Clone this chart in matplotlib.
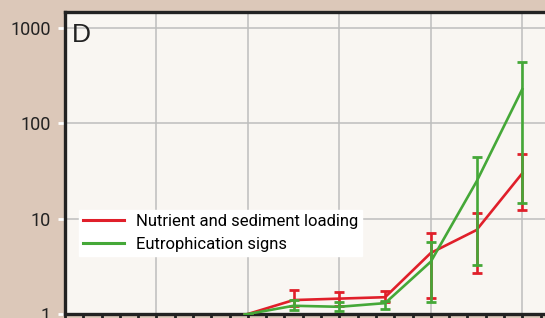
import matplotlib.pyplot as plt

years = [1970, 1975, 1980, 1985, 1990, 1995, 2000]

nutrient = [1.0, 1.40, 1.45, 1.50, 4.37, 7.6, 29.9]
nutrient_lo = [1.0, 1.22, 1.22, 1.35, 1.46, 2.67, 12.2]
nutrient_hi = [1.0, 1.78, 1.70, 1.74, 7.04, 11.4, 47.7]

eutro = [1.0, 1.22, 1.19, 1.30, 3.54, 24.5, 228]
eutro_lo = [1.0, 1.10, 1.075, 1.12, 1.35, 3.27, 14.5]
eutro_hi = [1.0, 1.40, 1.35, 1.37, 5.65, 44.8, 437]

ytick_vals = [1, 10, 100, 1000]
ytick_labels = ["1", "10", "100", "1000"]

red = "#e01f2a"
green = "#45a838"
font = ["Roboto", "DejaVu Sans"]

fig = plt.figure(figsize=(5.45, 3.18), dpi=100, facecolor="#dcc8b9")
ax = fig.add_axes([65/545, 4/318, 503/545, 302/318])
ax.set_facecolor("#f9f6f2")

def errs(v, lo, hi):
    return [[a - b for a, b in zip(v, lo)], [b - a for a, b in zip(v, hi)]]

eb1 = ax.errorbar(years, nutrient, yerr=errs(nutrient, nutrient_lo, nutrient_hi),
                  color=red, lw=1.9, elinewidth=1.9, capsize=3.5, capthick=2, zorder=3)
eb2 = ax.errorbar(years, eutro, yerr=errs(eutro, eutro_lo, eutro_hi),
                  color=green, lw=1.9, elinewidth=1.9, capsize=3.5, capthick=2, zorder=4)

ax.set_yscale("log")
ax.set_ylim(1, 1470)
ax.set_xlim(1950, 2005)
ax.set_yticks(ytick_vals)
ax.set_yticklabels(ytick_labels, family=font, fontsize=13, color="#222222")
ax.minorticks_off()
ax.set_xticks(range(1950, 2006, 2))
ax.set_xticklabels([])
ax.tick_params(axis="x", direction="out", length=6, width=2, color="#222222")
ax.tick_params(axis="y", direction="out", length=5, width=2, color="white", pad=5)

for x in range(1960, 2005, 10):
    ax.axvline(x, color="#bdbdbd", lw=1.1, zorder=1)
for y in ytick_vals:
    ax.axhline(y, color="#bdbdbd", lw=1.1, zorder=1)

for s in ["left", "top", "bottom"]:
    ax.spines[s].set_linewidth(2.4)
    ax.spines[s].set_color("#222222")
ax.spines["right"].set_visible(False)

ax.text(0.013, 0.962, "D", transform=ax.transAxes, ha="left", va="top",
        fontsize=19, family=["Liberation Sans", "DejaVu Sans"], color="#222222")

leg = ax.legend([eb1[0], eb2[0]], ["Nutrient and sediment loading", "Eutrophication signs"],
                loc="upper left", bbox_to_anchor=(79/545, 1 - 210/318),
                bbox_transform=fig.transFigure, frameon=True, fancybox=False,
                prop={"family": font, "size": 12}, handlelength=2.45,
                borderpad=0.25, labelspacing=0.45, handletextpad=0.7,
                borderaxespad=0)
leg.get_frame().set_facecolor("white")
leg.get_frame().set_edgecolor("white")
leg.get_frame().set_alpha(1)
for line in leg.get_lines():
    line.set_linewidth(2.2)

fig.savefig("out.png", dpi=100, facecolor=fig.get_facecolor())
